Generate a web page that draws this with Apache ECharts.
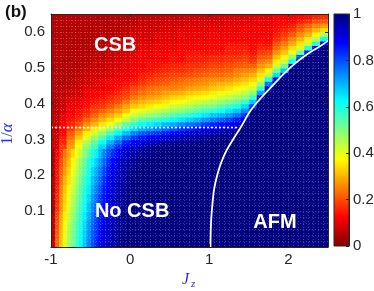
<!DOCTYPE html>
<html><head><meta charset="utf-8">
<script src="https://cdn.jsdelivr.net/npm/echarts@6/dist/echarts.min.js"></script>
<style>html,body{margin:0;padding:0;background:#fff}#c{width:374px;height:291px}</style>
</head><body><div id="c"></div>
<script>
// ================= data =================
// values are in percent of the colour scale (0 = dark red, 100 = dark blue)

// --- lower-left block: Jz -1..0 (cell centres), 1/alpha 0..0.275 ---
const lowLeftX = [-0.975,-0.925,-0.875,-0.825,-0.775,-0.725,-0.675,-0.625,-0.575,-0.525,
  -0.475,-0.425,-0.375,-0.325,-0.275,-0.225,-0.175,-0.125,-0.075,-0.025];
const lowY = [0.0125,0.0375,0.0625,0.0875,0.1125,0.1375,0.1625,0.1875,0.2125,0.2375,0.2625];
const lowLeftRows = [
 [7,22,32,40,46,52,57,62,68,74,79,84,88,92,94,96,97,99,100,100],
 [6,21,31,39,45,51,56,61,67,73,78,83,87,91,93,95,97,98,99,100],
 [6,20,30,38,44,50,55,60,66,72,77,82,86,90,93,95,96,98,99,100],
 [6,19,29,36,42,48,53,59,64,70,76,81,85,89,92,94,96,98,99,100],
 [5,17,27,34,40,46,51,57,62,68,74,79,84,87,90,93,95,97,98,99],
 [5,16,26,33,39,45,50,55,61,66,72,77,82,86,89,92,95,97,98,99],
 [5,15,25,32,37,43,48,54,59,64,70,75,80,85,88,91,94,96,98,99],
 [5,14,23,30,35,41,46,52,57,62,68,73,78,83,87,90,93,95,97,99],
 [4,14,22,28,33,39,44,50,55,60,66,71,76,81,85,89,92,94,96,98],
 [4,13,20,26,31,37,42,48,53,58,63,68,73,78,83,87,90,93,95,97],
 [4,12,18,24,29,34,39,44,49,54,59,64,70,75,79,83,86,90,92,95]
];

// --- lower-right block: Jz 0..2.5, 1/alpha 0..0.275 ---
const lowRightX = [0.05,0.15,0.25,0.35,0.45,0.55,0.65,0.75,0.85,0.95,
  1.05,1.15,1.25,1.35,1.45,1.55,1.65,1.75,1.85,1.95,2.05,2.15,2.25,2.35,2.45];
const lowRightRows = [
 [100,100,100,100,100,100,100,100,100,100,100,100,100,100,100,100,100,100,100,100,100,100,100,100,100],
 [100,100,100,100,100,100,100,100,100,100,100,100,100,100,100,100,100,100,100,100,100,100,100,100,100],
 [100,100,100,100,100,100,100,100,100,100,100,100,100,100,100,100,100,100,100,100,100,100,100,100,100],
 [100,100,100,100,100,100,100,100,100,100,100,100,100,100,100,100,100,100,100,100,100,100,100,100,100],
 [100,100,100,100,100,100,100,100,100,100,100,100,100,100,100,100,100,100,100,100,100,100,100,100,100],
 [100,100,100,100,100,100,100,100,100,100,100,100,100,100,100,100,100,100,100,100,100,100,100,100,100],
 [100,100,100,100,100,100,100,100,100,100,100,100,100,100,100,100,100,100,100,100,100,100,100,100,100],
 [100,100,100,100,100,100,100,100,100,100,100,100,100,100,100,100,100,100,100,100,100,100,100,100,100],
 [99,100,100,100,100,100,100,100,100,100,100,100,100,100,100,100,100,100,100,100,100,100,100,100,100],
 [98,100,100,100,100,100,100,100,100,100,100,100,100,100,100,100,100,100,100,100,100,100,100,100,100],
 [96,98,99,100,100,100,100,100,100,100,100,100,100,100,100,100,100,100,100,100,100,100,100,100,100]
];

// --- upper block: Jz -1..2.5, 1/alpha 0.275..0.65; one array per Jz column, bottom to top ---
const upperX = [-0.95,-0.85,-0.75,-0.65,-0.55,-0.45,-0.35,-0.25,-0.15,-0.05,
  0.05,0.15,0.25,0.35,0.45,0.55,0.65,0.75,0.85,0.95,
  1.05,1.15,1.25,1.35,1.45,1.55,1.65,1.75,1.85,1.95,
  2.05,2.15,2.25,2.35,2.45];
const upperY = [0.28125,0.29375,0.30625,0.31875,0.33125,0.34375,0.35625,0.36875,0.38125,0.39375,
  0.40625,0.41875,0.43125,0.44375,0.45625,0.46875,0.48125,0.49375,0.50625,0.51875,
  0.53125,0.54375,0.55625,0.56875,0.58125,0.59375,0.60625,0.61875,0.63125,0.64375];
const upperCols = [
 [8,8,7,7,6,6,6,5,5,5, 5,5,5,5,5,5,5,5,5,5, 5,5,5,5,5,5,5,5,5,5],
 [18,16,15,13,13,12,11,10,8,8, 7,7,6,6,5,5,5,5,5,5, 5,5,5,5,5,5,5,5,5,5],
 [28,26,23,21,18,16,14,12,12,11, 10,9,7,7,6,6,5,5,5,5, 5,5,5,5,5,5,5,5,5,5],
 [39,36,32,28,24,20,17,15,14,12, 11,9,8,8,7,7,6,6,5,5, 5,5,5,5,5,5,5,5,5,5],
 [49,45,40,36,30,26,22,18,16,14, 13,11,11,10,8,8,7,7,6,6, 5,5,5,5,5,5,5,5,5,5],
 [57,53,48,42,36,30,26,22,19,17, 15,13,12,10,9,9,8,8,7,7, 6,6,5,5,5,5,5,5,5,5],
 [67,62,55,49,41,35,30,26,22,18, 16,14,13,11,11,10,8,8,7,7, 6,6,5,5,5,5,5,5,5,5],
 [76,70,64,56,47,39,34,29,25,21, 18,16,14,12,12,11,9,9,8,8, 7,7,6,6,5,5,5,5,5,5],
 [83,77,71,63,54,46,38,32,28,24, 20,18,16,14,13,11,10,10,9,9, 8,8,7,7,6,6,5,5,5,5],
 [89,84,77,69,61,53,44,38,32,28, 24,20,18,16,14,12,11,11,10,10, 9,9,8,8,7,7,6,6,5,5],
 [92,88,82,75,66,58,50,43,37,32, 28,24,21,19,16,14,13,12,11,11, 10,10,9,9,8,8,7,7,6,6],
 [95,91,85,79,70,62,54,46,40,34, 30,26,23,21,18,16,15,13,12,12, 11,11,10,10,9,9,8,8,7,6],
 [98,94,88,81,72,64,56,48,42,36, 32,28,25,23,20,18,16,14,14,13, 11,11,10,10,9,9,8,8,7,6],
 [99,95,89,83,74,66,58,50,44,38, 33,29,26,24,21,19,17,15,14,13, 12,12,11,11,10,10,8,8,7,7],
 [100,97,91,85,77,69,60,52,46,40, 35,31,28,25,22,20,18,16,15,13, 12,12,11,11,10,10,9,9,8,7],
 [99,97,93,87,79,71,63,55,48,42, 37,33,29,25,23,21,19,17,16,14, 14,13,11,11,10,10,9,9,8,7],
 [100,98,95,89,82,74,65,57,50,44, 38,34,30,26,24,22,19,17,16,14, 13,13,12,12,11,11,10,9,8,7],
 [100,98,96,92,84,76,67,59,52,46, 40,36,32,28,25,23,20,18,17,15, 15,14,12,12,11,11,10,10,9,8],
 [100,99,97,93,86,78,70,62,54,48, 42,37,33,29,26,24,21,19,17,15, 15,14,12,12,11,11,10,10,9,8],
 [100,99,98,94,88,82,73,65,57,50, 44,38,34,30,27,25,22,20,18,16, 15,14,13,13,11,11,10,10,9,8],
 [100,100,99,95,90,84,76,68,59,51, 46,40,36,32,29,26,23,21,19,17, 16,14,13,13,12,12,11,10,9,8],
 [100,100,99,97,92,86,78,70,62,54, 48,42,37,33,30,26,23,21,19,17, 16,14,13,13,12,12,10,10,9,9],
 [100,100,99,97,94,88,81,73,65,57, 50,44,39,35,31,27,24,22,20,18, 17,15,15,14,12,12,11,11,10,9],
 [100,100,100,100,96,91,85,77,68,60, 53,47,41,37,33,29,26,24,21,19, 17,15,15,14,12,12,11,11,10,9],
 [100,100,100,100,100,100,93,84,74,66, 57,49,44,39,35,31,28,25,22,20, 18,16,15,14,13,13,12,11,10,9],
 [100,100,100,100,100,100,100,100,100,82, 68,57,49,42,37,33,30,26,22,18, 16,14,13,13,12,12,11,11,10,10],
 [100,100,100,100,100,100,100,100,100,100, 100,90,72,57,48,41,35,31,27,24, 21,18,16,14,13,12,12,11,11,10],
 [100,100,100,100,100,100,100,100,100,100, 100,100,100,90,76,60,45,36,30,26, 22,19,16,14,13,12,12,11,11,10],
 [100,100,100,100,100,100,100,100,100,100, 100,100,100,100,100,88,66,52,43,36, 31,27,23,20,17,15,14,13,12,12],
 [100,100,100,100,100,100,100,100,100,100, 100,100,100,100,100,100,92,68,52,43, 37,32,28,24,21,18,16,14,13,12],
 [100,100,100,100,100,100,100,100,100,100, 100,100,100,100,100,100,100,100,90,62, 48,40,34,29,25,21,18,15,13,12],
 [100,100,100,100,100,100,100,100,100,100, 100,100,100,100,100,100,100,100,100,100, 80,52,41,35,30,26,22,19,15,13],
 [100,100,100,100,100,100,100,100,100,100, 100,100,100,100,100,100,100,100,100,100, 100,85,58,43,36,30,26,22,17,14],
 [100,100,100,100,100,100,100,100,100,100, 100,100,100,100,100,100,100,100,100,100, 100,100,88,58,45,37,30,25,20,16],
 [100,100,100,100,100,100,100,100,100,100, 100,100,100,100,100,100,100,100,100,100, 100,100,100,88,62,45,34,27,21,17]
];

const xTicks = [-1, 0, 1, 2];
const yTicks = [0.1, 0.2, 0.3, 0.4, 0.5, 0.6];
const cbTicks = [0, 0.2, 0.4, 0.6, 0.8, 1];
// AFM phase boundary (white curve)
const afmJz = [1.015,1.018,1.025,1.04,1.06,1.10,1.15,1.22,1.30,1.40,1.52,1.65,1.80,1.95,2.10,2.25,2.40,2.50];
const afmY  = [0.000,0.040,0.080,0.120,0.160,0.200,0.235,0.270,0.300,0.335,0.380,0.415,0.450,0.485,0.515,0.540,0.560,0.575];
// dotted line at 1/alpha = 1/3
const dotJz = [-1, 1.36];
const dotY = [1/3, 1/3];
// region labels
const regionNames = ['CSB', 'No CSB', 'AFM'];
const regionJz = [-0.19, 0.025, 1.83];
const regionY = [0.561, 0.100, 0.067];
// reversed jet colormap, value 0 -> 1
const jetColors = ['#800000','#ff0000','#ff8000','#ffff00','#80ff80','#00ffff','#0080ff','#0000ff','#000080'];

// ================= chart =================
const chart = echarts.init(document.getElementById('c'), null, {renderer: 'canvas', width: 374, height: 291});
const AX = '#262626';
const FONT = '"Liberation Sans", Arial, Helvetica, sans-serif';
const BLUE = '#2b2be6';

const cells = [];
function addRows(rows, xs, ys) {
  const hx = (xs[1] - xs[0]) / 2, hy = (ys[1] - ys[0]) / 2;
  rows.forEach((row, j) => row.forEach((v, i) => cells.push([xs[i], ys[j], v, hx, hy])));
}
function addCols(cols, xs, ys) {
  const hx = (xs[1] - xs[0]) / 2, hy = (ys[1] - ys[0]) / 2;
  cols.forEach((col, i) => col.forEach((v, j) => cells.push([xs[i], ys[j], v, hx, hy])));
}
addRows(lowLeftRows, lowLeftX, lowY);
addRows(lowRightRows, lowRightX, lowY);
addCols(upperCols, upperX, upperY);

const isTick = (arr, v) => arr.some(t => Math.abs(t - v) < 1e-6);

function boxAxis(extra) {
  return Object.assign({
    type: 'value',
    axisLine: {show: true, onZero: false, lineStyle: {color: AX, width: 1}},
    axisTick: {show: true, inside: true, length: 3, lineStyle: {color: AX, width: 1}},
    splitLine: {show: false},
    z: 6
  }, extra);
}
function textureAxis(extra) {
  return Object.assign({
    type: 'value', gridIndex: 0, interval: 1, min: 0,
    axisLine: {show: false}, axisTick: {show: false}, axisLabel: {show: false},
    splitLine: {show: true, lineStyle: {color: 'rgba(255,255,255,0.24)', width: 1, type: [1, 2]}},
    z: 3
  }, extra);
}

const stops = jetColors.map((c, k) => ({offset: 1 - k / (jetColors.length - 1), color: c})).reverse();

const option = {
  animation: false,
  backgroundColor: '#fff',
  grid: [
    {left: 51, top: 14, width: 277, height: 233, outerBoundsMode: 'none', containLabel: false},
    {left: 334, top: 14, width: 15, height: 232, show: true, borderColor: AX, borderWidth: 1,
     backgroundColor: 'transparent', z: 10, outerBoundsMode: 'none', containLabel: false}
  ],
  xAxis: [
    boxAxis({gridIndex: 0, position: 'bottom', min: -1, max: 2.5, interval: 1,
      axisLabel: {show: true, margin: 5, fontSize: 15, color: AX, fontFamily: FONT,
        formatter: v => isTick(xTicks, v) ? String(Math.round(v)) : ''}}),
    boxAxis({gridIndex: 0, position: 'top', min: -1, max: 2.5, interval: 1, axisLabel: {show: false}}),
    textureAxis({position: 'top', max: 56}),
    {type: 'value', gridIndex: 1, min: 0, max: 1, show: false}
  ],
  yAxis: [
    boxAxis({gridIndex: 0, position: 'left', min: 0, max: 0.65, interval: 0.1,
      axisLabel: {show: true, margin: 6, fontSize: 15, color: AX, fontFamily: FONT,
        formatter: v => isTick(yTicks, v) ? v.toFixed(1) : ''}}),
    boxAxis({gridIndex: 0, position: 'right', min: 0, max: 0.65, interval: 0.1, axisLabel: {show: false}}),
    textureAxis({position: 'right', max: 39}),
    {type: 'value', gridIndex: 1, min: 0, max: 1, interval: 0.2, position: 'right',
      axisLine: {show: true, onZero: false, lineStyle: {color: AX, width: 1}},
      axisTick: {show: true, inside: true, length: 3, lineStyle: {color: AX}},
      splitLine: {show: false},
      axisLabel: {show: true, margin: 4, fontSize: 15, color: AX, fontFamily: FONT,
        formatter: v => isTick(cbTicks, v) ? String(Math.round(v * 10) / 10) : ''},
      z: 11}
  ],
  visualMap: {
    type: 'continuous', show: false, min: 0, max: 100, dimension: 2, seriesIndex: 0,
    inRange: {color: jetColors}
  },
  series: [
    {
      type: 'custom', xAxisIndex: 0, yAxisIndex: 0, data: cells, clip: true, z: 2,
      encode: {x: 0, y: 1},
      renderItem: function (params, api) {
        const x = api.value(0), y = api.value(1), hx = api.value(3), hy = api.value(4);
        const a = api.coord([x - hx, y + hy]);
        const b = api.coord([x + hx, y - hy]);
        return {type: 'rect', shape: {x: a[0], y: a[1], width: b[0] - a[0] + 0.6, height: b[1] - a[1] + 0.6},
          style: {fill: api.visual('color')}};
      }
    },
    {
      type: 'line', xAxisIndex: 0, yAxisIndex: 0, z: 5, symbol: 'none', smooth: 0.3,
      data: afmJz.map((x, k) => [x, afmY[k]]),
      lineStyle: {color: '#ffffff', width: 1.8}
    },
    {
      type: 'line', xAxisIndex: 0, yAxisIndex: 0, z: 5, symbol: 'none',
      data: dotJz.map((x, k) => [x, dotY[k]]),
      lineStyle: {color: '#ffffff', width: 1.6, type: [2, 2]}
    },
    {
      type: 'scatter', xAxisIndex: 0, yAxisIndex: 0, z: 12, symbolSize: 1, silent: true,
      itemStyle: {color: 'rgba(0,0,0,0)'},
      data: regionNames.map((n, k) => ({name: n, value: [regionJz[k], regionY[k]]})),
      label: {show: true, position: 'inside', formatter: '{b}', color: '#ffffff', fontSize: 20,
        fontWeight: 'bold', fontFamily: FONT, textBorderWidth: 0, opacity: 1}
    },
    {
      type: 'custom', xAxisIndex: 3, yAxisIndex: 3, data: [[0, 0]], z: 2,
      renderItem: function (params, api) {
        const a = api.coord([0, 1]);
        const b = api.coord([1, 0]);
        return {type: 'rect', shape: {x: a[0], y: a[1], width: b[0] - a[0], height: b[1] - a[1]},
          style: {fill: new echarts.graphic.LinearGradient(0, 0, 0, 1, stops)}};
      }
    }
  ],
  graphic: [
    {type: 'text', left: 5, top: 4, style: {text: '(b)', font: 'bold 17px "Liberation Sans", Arial', fill: '#111'}},
    {type: 'text', x: 182, y: 272, style: {text: 'J', font: 'italic 16px "Liberation Serif", serif', fill: BLUE}},
    {type: 'text', x: 191, y: 279, style: {text: 'z', font: 'italic 11px "Liberation Serif", serif', fill: BLUE}},
    {type: 'text', x: 8, y: 134, rotation: Math.PI / 2,
      style: {text: '{n|1/}{a|α}', align: 'center', verticalAlign: 'middle', fill: BLUE,
        rich: {n: {fontSize: 16, fontFamily: '"Liberation Serif", serif', fill: BLUE},
               a: {fontSize: 17, fontFamily: '"Liberation Serif", serif', fontStyle: 'italic', fill: BLUE}}}}
  ]
};
chart.setOption(option);
</script>
</body></html>
